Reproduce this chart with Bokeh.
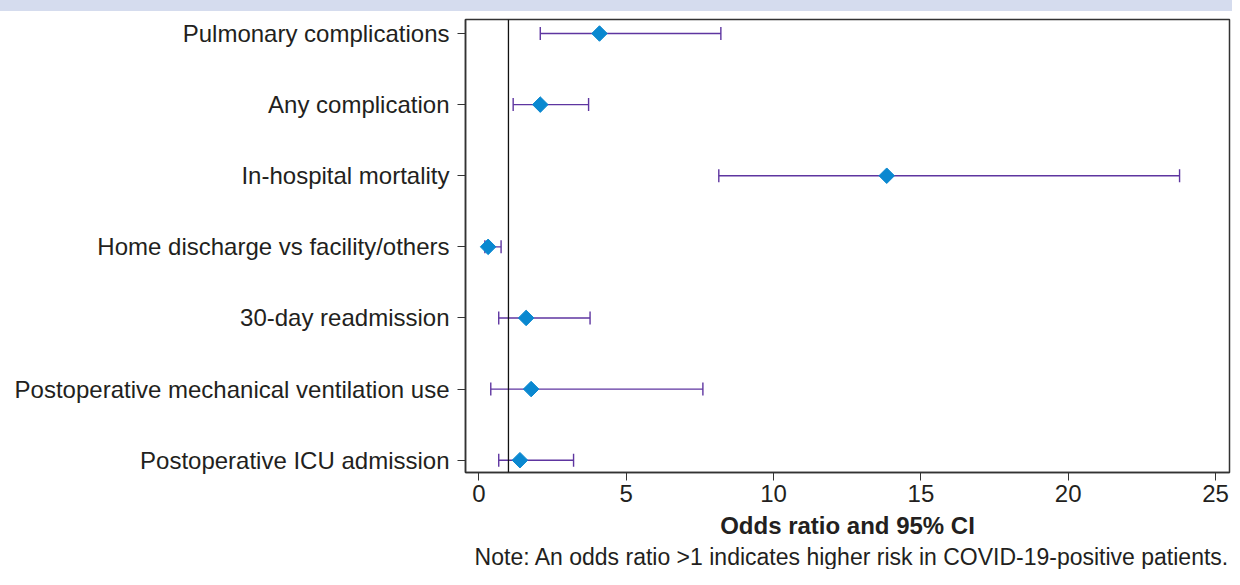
import math
from bokeh.plotting import figure
from bokeh.layouts import column
from bokeh.models import (ColumnDataSource, Range1d, FixedTicker, Whisker, TeeHead,
                          Span, Title, Div)
from bokeh.embed import file_html
from bokeh.resources import INLINE

# ---------------- data ----------------
outcomes = [
    "Pulmonary complications",
    "Any complication",
    "In-hospital mortality",
    "Home discharge vs facility/others",
    "30-day readmission",
    "Postoperative mechanical ventilation use",
    "Postoperative ICU admission",
]
odds_ratio = [4.09, 2.08, 13.84, 0.31, 1.60, 1.77, 1.39]
ci_lower = [2.08, 1.16, 8.14, 0.20, 0.67, 0.40, 0.67]
ci_upper = [8.21, 3.72, 23.78, 0.75, 3.77, 7.60, 3.21]
x_ticks = [0, 5, 10, 15, 20, 25]
null_value = 1
x_title = "Odds ratio and 95% CI"
note = "Note: An odds ratio >1 indicates higher risk in COVID-19-positive patients."

rows = list(range(1, len(outcomes) + 1))

FONT = "Liberation Sans"
TXT = "#231f20"
FRAME = "#333333"
PURPLE = "#5e35a0"
BLUE = "#0a88d0"
BAND = "#d5dcee"

src = ColumnDataSource(dict(y=rows, or_=odds_ratio, lo=ci_lower, hi=ci_upper))

BAND_H = 11
p = figure(width=1232, height=569 - BAND_H, output_backend="svg", toolbar_location=None,
           x_range=Range1d(-0.458, 25.475), y_range=Range1d(7.173, 0.803),
           min_border=0)
p.min_border_left = 465
p.min_border_right = 3
p.min_border_top = 19 - BAND_H
p.min_border_bottom = 97

p.background_fill_color = "white"
p.border_fill_color = "white"
p.outline_line_color = FRAME
p.outline_line_width = 1.5
p.xgrid.visible = False
p.ygrid.visible = False

# x axis
xa = p.xaxis[0]
xa.ticker = FixedTicker(ticks=x_ticks)
xa.minor_tick_line_color = None
xa.major_tick_in = 0
xa.major_tick_out = 8
xa.major_tick_line_color = FRAME
xa.axis_line_color = FRAME
xa.axis_line_width = 1.5
xa.major_label_standoff = 4
xa.major_label_text_font = FONT
xa.major_label_text_font_size = "24px"
xa.major_label_text_color = TXT
xa.axis_label = x_title
xa.axis_label_text_font = FONT
xa.axis_label_text_font_size = "24px"
xa.axis_label_text_font_style = "bold"
xa.axis_label_text_color = TXT
xa.axis_label_standoff = 7

# y axis
ya = p.yaxis[0]
ya.ticker = FixedTicker(ticks=rows)
ya.major_label_overrides = {r: lab for r, lab in zip(rows, outcomes)}
ya.minor_tick_line_color = None
ya.major_tick_in = 0
ya.major_tick_out = 8
ya.major_tick_line_color = FRAME
ya.axis_line_color = FRAME
ya.axis_line_width = 1.5
ya.major_label_standoff = 8
ya.major_label_text_font = FONT
ya.major_label_text_font_size = "24px"
ya.major_label_text_color = TXT

# null reference line
p.add_layout(Span(location=null_value, dimension="height", line_color="#111111",
                  line_width=1.3))

# confidence intervals
p.add_layout(Whisker(source=src, base="y", lower="lo", upper="hi", dimension="width",
                     line_color=PURPLE, line_width=1.4,
                     lower_head=TeeHead(size=13, line_color=PURPLE, line_width=1.4),
                     upper_head=TeeHead(size=13, line_color=PURPLE, line_width=1.4)))

# point estimates (diamonds)
p.scatter("or_", "y", source=src, marker="square", size=11, angle=math.pi / 4,
          fill_color=BLUE, line_color=BLUE)

# footnote
p.add_layout(Title(text=note, align="right", standoff=0, offset=0,
                   text_font=FONT, text_font_size="23px", text_font_style="normal",
                   text_color=TXT), "below")

band = Div(text="", width=1232, height=BAND_H, margin=0,
           styles={"background-color": BAND})

layout = column(band, p, spacing=0)

open("out.html", "w").write(file_html(layout, INLINE))
